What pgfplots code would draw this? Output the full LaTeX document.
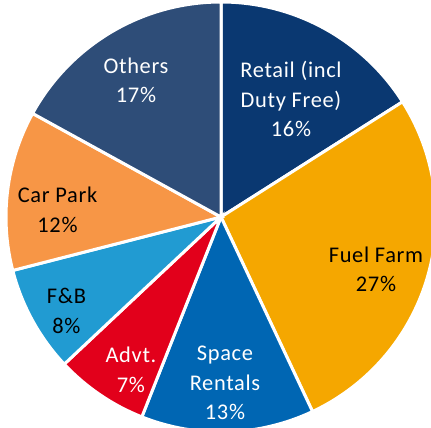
\documentclass[border=0pt]{standalone}
\usepackage{pgfplots}
\pgfplotsset{compat=1.18}
\usepackage{pgfplotstable}
\usepackage{fontspec}
\setmainfont{Carlito}[LetterSpace=3]
\definecolor{cRetail}{HTML}{0A3871}
\definecolor{cFuel}{HTML}{F5A700}
\definecolor{cSpace}{HTML}{0066B3}
\definecolor{cAdvt}{HTML}{E2001B}
\definecolor{cFB}{HTML}{219BD2}
\definecolor{cCar}{HTML}{F79646}
\definecolor{cOthers}{HTML}{2E4D78}
\pgfplotstableread{
name value col
Retail 16 cRetail
Fuel 27 cFuel
Space 13 cSpace
Advt 7 cAdvt
FB 8 cFB
Car 12 cCar
Others 17 cOthers
}\piedata
\newcommand\lab[4]{\node[anchor=base,text=#1,font=\fontsize{22.5}{29}\selectfont,inner sep=0pt] at (axis cs:#2,{428-#3}) {#4};}
\begin{document}
\begin{tikzpicture}
\begin{axis}[x=1bp,y=1bp,xmin=0,xmax=431,ymin=0,ymax=428,hide axis,clip=true]
\gdef\startang{90}
\pgfplotsforeachungrouped \i in {0,...,6}{%
  \pgfplotstablegetelem{\i}{value}\of\piedata \let\sliceval\pgfplotsretval
  \pgfplotstablegetelem{\i}{col}\of\piedata \let\slicecol\pgfplotsretval
  \pgfmathsetmacro\endang{\startang-3.6*\sliceval}%
  \edef\temp{\noexpand\fill[\slicecol,draw=white,line width=3bp,line join=miter] (axis cs:221,211) -- ++(\startang:215bp) arc[start angle=\startang,end angle=\endang,radius=215bp] -- cycle;}%
  \temp
  \global\let\startang\endang
}
\lab{white}{291}{77}{Retail (incl}
\lab{white}{291}{107}{Duty Free)}
\lab{white}{291}{136}{16\%}
\lab{black}{376}{262}{Fuel Farm}
\lab{black}{376}{291}{27\%}
\lab{white}{225}{360}{Space}
\lab{white}{225}{390}{Rentals}
\lab{white}{225}{419}{13\%}
\lab{white}{131}{362}{Advt.}
\lab{white}{131}{392}{7\%}
\lab{black}{66.5}{303}{F\&B}
\lab{black}{66.5}{333}{8\%}
\lab{black}{57.5}{202}{Car Park}
\lab{black}{57.5}{232}{12\%}
\lab{white}{136}{73}{Others}
\lab{white}{136}{102}{17\%}
\end{axis}
\pgfresetboundingbox
\path (current axis.south west) rectangle (current axis.north east);
\end{tikzpicture}
\end{document}
